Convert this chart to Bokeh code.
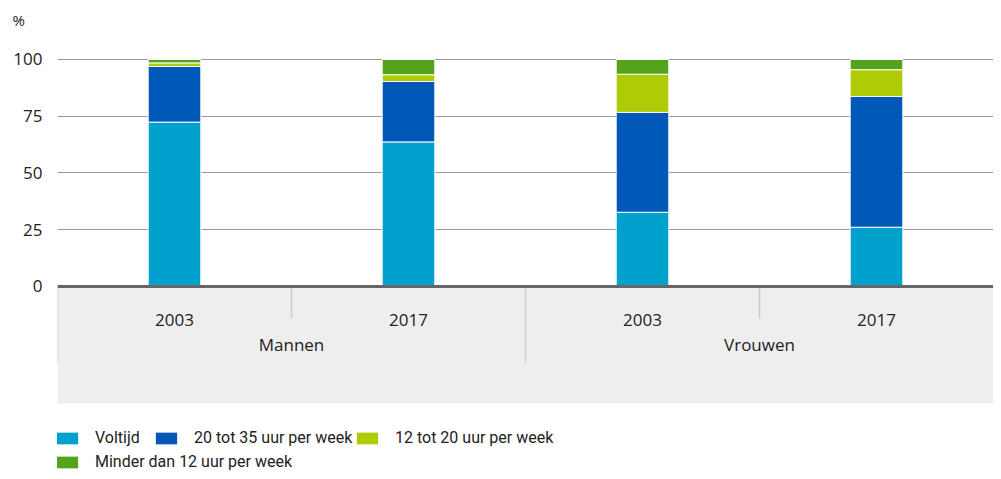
from bokeh.plotting import figure
from bokeh.models import (ColumnDataSource, FactorRange, CategoricalAxis, FixedTicker,
                          Legend, LegendItem)
from bokeh.embed import file_html
from bokeh.resources import INLINE

# ---- data ----
groups = ["Mannen", "Mannen", "Vrouwen", "Vrouwen"]
years = ["2003", "2017", "2003", "2017"]
series = ["Voltijd", "20 tot 35 uur per week", "12 tot 20 uur per week",
          "Minder dan 12 uur per week"]
voltijd = [72.4, 63.7, 32.7, 26.1]
uur_20_35 = [24.5, 26.6, 44.0, 57.6]
uur_12_20 = [1.6, 3.0, 16.8, 11.8]
minder_12 = [1.5, 6.7, 6.5, 4.5]
y_ticks = [0, 25, 50, 75, 100]
y_unit = "%"
colors = ["#00a1cd", "#0058b8", "#afcb05", "#53a31d"]

FONT = "Open Sans"
LFONT = "Roboto"
TXT = "#222222"

factors = list(zip(groups, years))
keys = ["voltijd", "u2035", "u1220", "m12"]
source = ColumnDataSource(dict(x=factors, voltijd=voltijd, u2035=uur_20_35,
                               u1220=uur_12_20, m12=minder_12))

x_range = FactorRange(*factors, factor_padding=0, group_padding=0,
                      subgroup_padding=0, range_padding=0)

p = figure(width=993, height=471, x_range=x_range, y_range=(-81.5, 111.0),
           title=y_unit,
           output_backend="svg", toolbar_location=None, x_axis_location=None,
           min_border_left=57, min_border_right=0, min_border_top=34,
           min_border_bottom=0, outline_line_color=None)

# unit shown as the title, top left
p.title.align = "left"
p.title.offset = -45
p.title.standoff = 10
p.title.text_font = FONT
p.title.text_font_size = "15px"
p.title.text_font_style = "normal"
p.title.text_color = TXT

# grey panel under the axis
p.quad(left=[factors[0] + (-0.5,)], right=[factors[-1] + (0.5,)],
       bottom=[-51.5], top=[0], fill_color="#eeeeee", line_color=None)

# separators
sx, sy = [], []
for i, f in enumerate(factors):
    sx.append(f + (-0.5,))
    long_sep = i == 0 or groups[i] != groups[i - 1]
    sy.append(-33.5 if long_sep else -14.0)
p.segment(x0=sx, y0=[0] * len(sx), x1=sx, y1=sy, line_color="#cccccc", line_width=1.5)

# bars
rs = p.vbar_stack(keys, x="x", width=0.225, color=colors, line_color="white",
                  line_width=1, source=source)

# grid
p.xgrid.visible = False
p.ygrid.ticker = FixedTicker(ticks=y_ticks)
p.ygrid.grid_line_color = "#999999"
p.ygrid.grid_line_width = 1

# y axis
p.yaxis.ticker = FixedTicker(ticks=y_ticks)
p.yaxis.axis_line_color = None
p.yaxis.major_tick_line_color = None
p.yaxis.minor_tick_line_color = None
p.yaxis.major_tick_out = 0
p.yaxis.major_label_standoff = 15
p.yaxis.major_label_text_font = FONT
p.yaxis.major_label_text_font_size = "17px"
p.yaxis.major_label_text_color = TXT


def cat_axis(loc, standoff, show_years, show_groups, line):
    ax = CategoricalAxis(fixed_location=loc)
    ax.axis_line_color = "#666666" if line else None
    ax.axis_line_width = 3
    ax.major_tick_line_color = None
    ax.major_tick_out = 0
    ax.major_tick_in = 0
    ax.major_label_standoff = standoff
    ax.major_label_text_font = FONT
    ax.major_label_text_font_size = "17px"
    ax.major_label_text_color = TXT
    ax.major_label_text_alpha = 1 if show_years else 0
    ax.group_text_font = FONT
    ax.group_text_font_size = "17px"
    ax.group_text_font_style = "normal"
    ax.group_text_color = TXT
    ax.group_text_alpha = 1 if show_groups else 0
    ax.separator_line_color = None
    return ax


# year labels on the axis at 0, group labels further down
p.add_layout(cat_axis(0, 28, True, False, True), "below")
p.add_layout(cat_axis(-20.3, 0, False, True, False), "below")

# legends (one per item, laid out like the original)
common = dict(orientation="horizontal", glyph_width=28, glyph_height=16,
              label_standoff=14, spacing=0, padding=0, margin=0,
              border_line_color=None, background_fill_alpha=0,
              label_text_font=LFONT, label_text_font_size="16px",
              label_text_color=TXT, label_height=16)
legend_locs = [(-4, 24), (95, 24), (296, 24), (-4, 0)]
for i, loc in enumerate(legend_locs):
    p.add_layout(Legend(items=[LegendItem(label=series[i], renderers=[rs[i]])],
                        location=loc, **common))

open("out.html", "w").write(file_html(p, INLINE))
